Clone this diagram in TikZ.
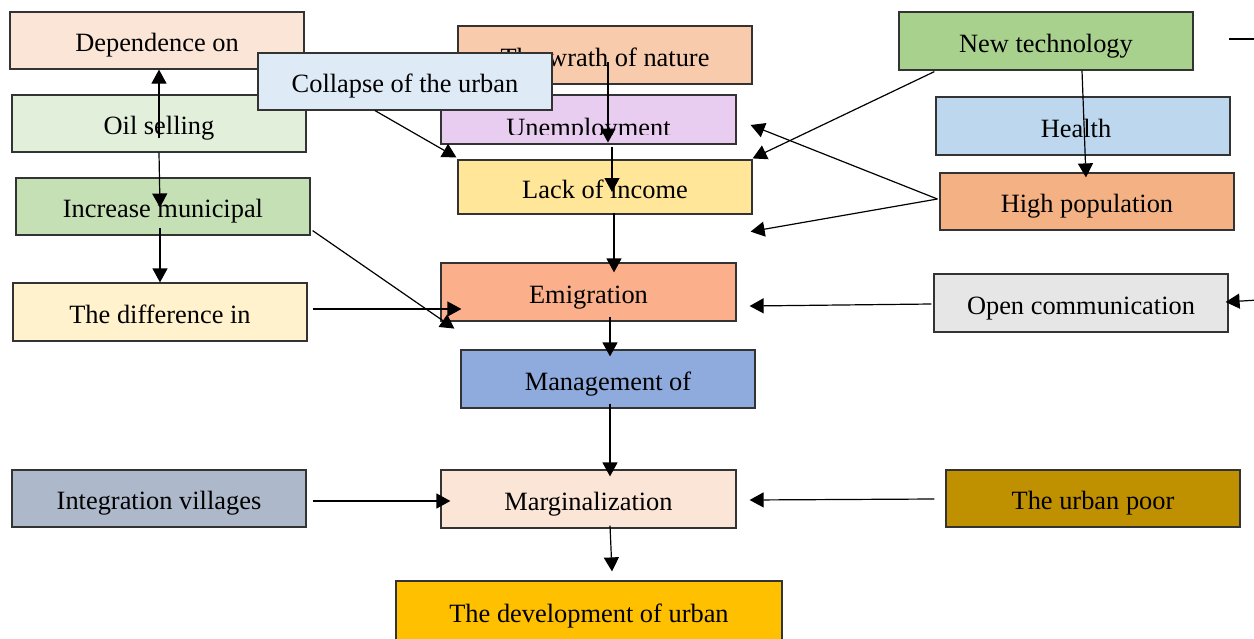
\documentclass[tikz,border=0pt]{standalone}
\usepackage{fontspec}
\setmainfont{Liberation Serif}
\usepackage{tikz}
\usetikzlibrary{arrows.meta}
\usetikzlibrary{calc}

\definecolor{cDep}{HTML}{FBE5D6}
\definecolor{cOil}{HTML}{E2EFDA}
\definecolor{cInc}{HTML}{C5E0B4}
\definecolor{cDiff}{HTML}{FFF2CC}
\definecolor{cColl}{HTML}{DEEBF7}
\definecolor{cWrath}{HTML}{F8CBAD}
\definecolor{cUnemp}{HTML}{E9CDF1}
\definecolor{cLack}{HTML}{FFE699}
\definecolor{cTech}{HTML}{A9D18E}
\definecolor{cHealth}{HTML}{BDD7EE}
\definecolor{cPop}{HTML}{F4B183}
\definecolor{cEmig}{HTML}{FBB08B}
\definecolor{cOpen}{HTML}{E7E6E6}
\definecolor{cMgmt}{HTML}{8FAADC}
\definecolor{cInteg}{HTML}{ADB9CA}
\definecolor{cMarg}{HTML}{FBE5D6}
\definecolor{cPoor}{HTML}{BF9000}
\definecolor{cDev}{HTML}{FFC000}

\tikzset{
  box/.style={draw=black!80, line width=0.6pt, rectangle, inner sep=0pt,
    minimum width=147pt, minimum height=28.5pt, text height=11.1pt, text depth=0pt,
    font=\fontsize{13.2pt}{15pt}\selectfont},
  arr/.style={line width=0.6pt, -{Triangle[length=7pt,width=7.5pt]}}
}

\begin{document}
\begin{tikzpicture}[x=0.5pt, y=-0.5pt]
    \useasboundingbox (0,0) rectangle (1254,638);
    \node[box, fill=cDep] (dep) at (157,40.5) {Dependence on};
    \node[box, fill=cOil] (oil) at (159,123.5) {Oil selling};
    \node[box, fill=cInc] (inc) at (163,206.5) {Increase municipal};
    \node[box, fill=cDiff, minimum height=29pt] (diff) at (160,312) {The difference in};
    \node[box, fill=cWrath, minimum height=29pt] (wrath) at (605,55) {The wrath of nature};
    \node[box, fill=cUnemp, minimum width=147.5pt, minimum height=24.5pt] (unemp) at (588.5,119.5) {};
    \begin{scope}
      \clip (unemp.north west) rectangle ($(unemp.east)+(0,14.5)$);
      \node[font=\fontsize{13.2pt}{15pt}\selectfont] (unemptext) at ($(unemp.center)+(0,10.5)$) {Unemployment};
    \end{scope}
    \node[box, fill=cLack, minimum height=27pt] (lack) at (605,187) {Lack of income};
    \node[box, fill=cColl] (coll) at (405,81.5) {Collapse of the urban};
    \node[box, fill=cTech, minimum height=29pt] (tech) at (1046,41) {New technology};
    \node[box, fill=cHealth, minimum height=29pt] (health) at (1083,126) {\hspace*{-7pt}Health};
    \node[box, fill=cPop] (pop) at (1087,201.5) {High population};
    \node[box, fill=cEmig, minimum width=147.5pt, minimum height=29pt] (emig) at (588.5,292) {Emigration};
    \node[box, fill=cOpen, minimum height=29pt] (open) at (1081,303) {Open communication};
    \node[box, fill=cMgmt, minimum height=29pt] (mgmt) at (608,379) {Management of};
    \node[box, fill=cInteg] (integ) at (159,498.5) {Integration villages};
    \node[box, fill=cMarg, minimum width=147.5pt, minimum height=29pt] (marg) at (588.5,499) {Marginalization};
    \node[box, fill=cPoor] (poor) at (1093,498.5) {The urban poor};
    \node[box, fill=cDev, minimum width=193pt, minimum height=30pt] (dev) at (589,611) {The development of urban};
    \coordinate (openin) at (1258,300);
    \coordinate (stubA) at (1229,39);
    \coordinate (stubB) at (1258,39);

    \draw[arr] ($(oil.center)+(0,14.5)$) -- (oil.center |- dep.south);
    \draw[arr] (oil.south) -- ($(inc.center)+(-3,1)$);
    \draw[arr] ($(inc.center)+(-3,21.5)$) -- (diff.north);
    \draw[arr] ($(inc.south east)+(2,-5)$) -- ($(emig.south west)+(14,7)$);
    \draw[arr] ($(diff.east)+(5,-3)$) -- ($(emig.west)+(21,17)$);
    \draw[arr] ($(coll.south)+(-30,0)$) -- ($(lack.north west)+(-1,-2)$);
    \draw[arr] ($(wrath.center)+(3,7)$) -- ($(unemp.south)+(19.5,-2)$);
    \draw[arr] ($(unemp.south)+(23.5,2)$) -- ($(lack.center)+(7,5)$);
    \draw[arr] ($(lack.south)+(9,-2)$) -- ($(emig.north)+(25.5,10)$);
    \draw[arr] ($(emig.south)+(21.5,-5)$) -- ($(mgmt.north)+(2,7)$);
    \draw[arr] ($(mgmt.south)+(2,-5)$) -- ($(marg.north)+(21.5,7)$);
    \draw[arr] ($(marg.south)+(21.5,-3)$) -- ($(dev.north)+(23,-9)$);
    \draw[arr] ($(integ.east)+(6,2.5)$) -- ($(marg.west)+(10,2)$);
    \draw[arr] ($(poor.west)+(-11,0.5)$) -- ($(marg.east)+(13,1)$);
    \draw[arr] ($(open.west)+(-2,1)$) -- ($(emig.east)+(13,14)$);
    \draw[arr] (openin) -- ($(open.east)+(-3,-1)$);
    \draw[line width=0.6pt] (stubA) -- (stubB);
    \draw[arr] ($(tech.south west)+(36,1)$) -- ($(lack.north east)+(0,-1)$);
    \draw[arr] ($(tech.south)+(36,0)$) -- ($(pop.north)+(-1,5)$);
    \draw[arr] ($(pop.west)+(-2,-2.5)$) -- ($(unemp.east)+(14,5.5)$);
    \draw[arr] ($(pop.west)+(-2,-2.5)$) -- ($(lack.south east)+(-2,17)$);
\end{tikzpicture}
\end{document}
